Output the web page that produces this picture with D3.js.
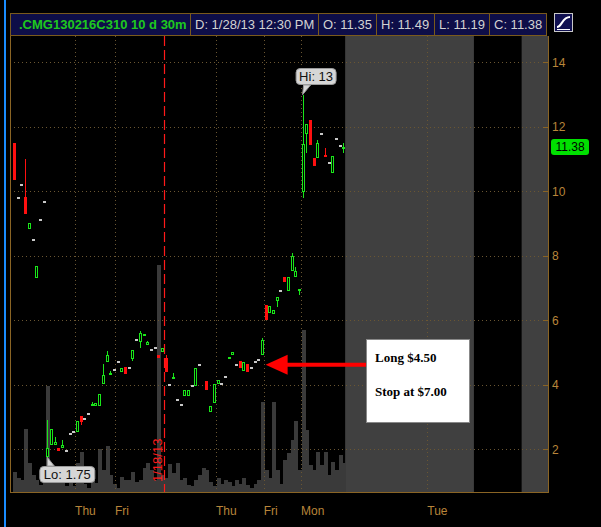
<!DOCTYPE html>
<html>
<head>
<meta charset="utf-8">
<script src="https://cdn.jsdelivr.net/npm/d3@7"></script>
<style>
body { margin: 0; background: #000; }
svg { display: block; }
</style>
</head>
<body>
<svg id="chart" width="601" height="527"></svg>
<script>
// 30 min bars, one slot per bar (null = no bar drawn)
const opens  = [11.5, 9.8, 10.2, 9.83, 8.83, 8.5, 7.32, 9.12, 9.67, 1.75,
                2.12, 2.12, 2.05, 2.04, 1.94, 2.46, 2.53, 2.53, 3.03, 2.93,
                3.1, 3.33, 3.34, 3.34, 4.02, 4.72, 4.29, 4.46, 4.72, 4.41,
                4.55, 4.52, 4.80, 5.39, 5.32, 5.53, 5.24, 5.09, 5.13, 4.93,
                5.01, 4.83, 3.98, 4.17, 3.53, 3.36, 3.66, 3.66, 3.95, 3.96,
                4.62, null, 4.12, 3.17, 3.45, 4.03, 4.03, 4.23, 4.83, 4.91,
                4.62, 4.74, 4.44, 4.65, 4.51, 4.72, 4.78, 4.91, 6.46, 6.23,
                6.21, 6.61, 6.92, 7.33, 6.9, 7.52, 7.33, 6.93, 9.99, 11.77,
                12.2, 11.03, 11.05, 11.77, 11.13, 10.88, 10.58, 11.62, 11.4, 11.35];
const highs  = [11.5, 9.8, 10.2, 11.0, 9.02, 8.5, 7.68, 9.12, 9.67, 2.9,
                2.64, 2.37, 2.05, 2.29, 1.94, 2.46, 2.53, 2.88, 3.03, 2.93,
                3.1, 3.46, 3.44, 3.70, 4.65, 5.06, 4.42, 4.46, 4.72, 4.52,
                4.55, 4.52, 5.08, 5.39, 5.68, 5.56, 5.36, 5.09, 5.13, 4.93,
                5.13, 4.93, 3.98, 4.37, 3.53, 3.36, 3.85, 3.85, 3.95, 4.52,
                4.62, null, 4.12, 3.34, 4.03, 4.15, 4.03, 4.23, 4.86, 5.01,
                4.62, 4.74, 4.72, 4.65, 4.51, 4.72, 4.78, 5.45, 6.46, 6.45,
                6.32, 6.71, 6.92, 7.33, 7.33, 8.1, 7.64, 6.97, 13.0, 12.08,
                12.2, 11.03, 11.59, 11.77, 11.35, 10.88, 11.1, 11.62, 11.4, 11.49];
const lows   = [10.35, 9.8, 10.2, 9.29, 8.83, 8.5, 7.32, 9.12, 9.67, 1.75,
                2.12, 2.12, 1.94, 2.04, 1.94, 2.46, 2.53, 2.53, 2.75, 2.93,
                3.1, 3.33, 3.34, 3.34, 4.02, 4.72, 4.29, 4.46, 4.72, 4.41,
                4.34, 4.52, 4.73, 5.39, 5.14, 5.53, 5.24, 5.09, 5.13, 4.83,
                5.01, 4.41, 3.98, 4.17, 3.53, 3.36, 3.66, 3.66, 3.95, 3.96,
                4.62, null, 3.83, 3.17, 3.45, 4.03, 4.03, 4.23, 4.83, 4.91,
                4.62, 4.53, 4.44, 4.41, 4.51, 4.72, 4.78, 4.91, 6.02, 6.23,
                6.21, 6.41, 6.92, 7.2, 6.9, 7.52, 7.33, 6.8, 9.78, 11.2,
                11.43, 10.79, 11.05, 11.77, 11.07, 10.88, 10.58, 11.62, 11.4, 11.19];
const closes = [10.35, 9.8, 10.2, 9.29, 9.02, 8.5, 7.68, 9.12, 9.67, 2.05,
                2.64, 2.23, 1.94, 2.12, 1.94, 2.46, 2.53, 2.88, 2.85, 2.93,
                3.1, 3.41, 3.44, 3.70, 4.30, 4.93, 4.37, 4.46, 4.72, 4.52,
                4.34, 4.52, 5.08, 5.39, 5.61, 5.56, 5.32, 5.09, 5.13, 4.83,
                5.13, 4.41, 3.98, 4.25, 3.53, 3.36, 3.85, 3.85, 3.95, 4.52,
                4.62, null, 3.83, 3.34, 4.03, 4.15, 4.03, 4.23, 4.86, 5.01,
                4.62, 4.53, 4.72, 4.41, 4.51, 4.72, 4.78, 5.38, 6.02, 6.45,
                6.32, 6.71, 6.92, 7.2, 7.33, 7.99, 7.54, 6.97, 11.46, 12.08,
                11.43, 10.79, 11.51, 11.77, 11.07, 10.88, 11.1, 11.62, 11.4, 11.38];
const volumes = [50, 35, 30, 158, 73, 43, 30, 18, 35, 265,
                 63, 50, 23, 35, 15, 30, 15, 73, 100, 20,
                 10, 40, 23, 108, 55, 115, 43, 20, 10, 38,
                 30, 30, 50, 25, 30, 60, 73, 55, 30, 568,
                 43, 35, 70, 48, 73, 30, 35, 18, 15, 30,
                 43, 60, 55, 25, 15, 35, 20, 30, 25, 15,
                 30, 20, 35, 18, 10, 20, 30, 225, 55, 35,
                 225, 55, 20, 80, 98, 130, 178, 55, 405, 155,
                 68, 55, 100, 68, 100, 43, 75, 55, 93, 73];

// day separators, in bar slots
const dayTicks  = [16.5, 27.3, 54.6, 67.5, 77.6, 111.7];
const dayLabels = ["Thu", "Fri", "Thu", "Fri", "Mon", "Tue"];
const expiryTick = 40.5, expiryLabel = "1/18/13";
// closed / future sessions, in bar slots
const closedFrom = [89.5, 137.2];
const closedTo   = [124.3, 144.5];
const priceTicks = [2, 4, 6, 8, 10, 12, 14];

const header = [".CMG130216C310 10 d 30m", "D: 1/28/13 12:30 PM", "O: 11.35", "H: 11.49", "L: 11.19", "C: 11.38"];
const lastPrice = 11.38;

const width = 601, height = 527;
const pLeft = 10, pRight = 548, pTop = 36, pBottom = 492;

const svg = d3.select("#chart");

let x = d3.scaleLinear().domain([0, 89]).range([14, 343.3]);
let y = d3.scaleLinear().domain([0.674, 14.82]).range([pBottom, pTop]);
let yVol = d3.scaleLinear().domain([0, 600]).range([pBottom, pBottom - 240]);

const bars = opens.map(function(o, i) {
	return {i: i, o: o, h: highs[i], l: lows[i], c: closes[i], v: volumes[i]};
});

svg.append("rect").attr("width", width).attr("height", height).attr("fill", "#000");

// blue edge on the left
svg.append("rect").attr("x", 4).attr("y", 0).attr("width", 2).attr("height", height).attr("fill", "#1a8cff");

// closed sessions
svg.append("g").selectAll("rect")
	.data(closedFrom)
	.enter().append("rect")
	.attr("x", function(d) { return x(d); })
	.attr("y", pTop)
	.attr("width", function(d, i) { return x(closedTo[i]) - x(d); })
	.attr("height", pBottom - pTop)
	.attr("fill", "#404040");

// volume
svg.append("g").attr("shape-rendering", "crispEdges").selectAll("rect")
	.data(bars)
	.enter().append("rect")
	.attr("x", function(d) { return Math.round(x(d.i)) - 1; })
	.attr("y", function(d) { return Math.round(yVol(d.v)); })
	.attr("width", 4)
	.attr("height", function(d) { return pBottom - Math.round(yVol(d.v)); })
	.attr("fill", "#3a3a3a");

// grid
let grid = svg.append("g").attr("stroke", "#6a5632").attr("stroke-dasharray", "1,3");
grid.selectAll("line.h")
	.data(priceTicks)
	.enter().append("line")
	.attr("x1", pLeft).attr("x2", pRight - 6)
	.attr("y1", function(d) { return Math.round(y(d)) + 0.5; })
	.attr("y2", function(d) { return Math.round(y(d)) + 0.5; });
grid.selectAll("line.v")
	.data(dayTicks)
	.enter().append("line")
	.attr("x1", function(d) { return Math.round(x(d)) + 0.5; })
	.attr("x2", function(d) { return Math.round(x(d)) + 0.5; })
	.attr("y1", pTop).attr("y2", pBottom);

// expiration marker
svg.append("line")
	.attr("x1", Math.round(x(expiryTick)) + 0.5).attr("x2", Math.round(x(expiryTick)) + 0.5)
	.attr("y1", pTop).attr("y2", pBottom)
	.attr("stroke", "#ff1a1a").attr("stroke-width", 1.2)
	.attr("stroke-dasharray", "10,4");
svg.append("text")
	.attr("transform", "translate(" + (x(expiryTick) - 2) + "," + (pBottom - 10) + ") rotate(-90)")
	.style("font", "13px 'Liberation Sans', Arial, sans-serif")
	.attr("fill", "#ff1a1a")
	.text(expiryLabel);

// candles
let candles = svg.append("g").attr("shape-rendering", "crispEdges")
	.selectAll("g")
	.data(bars.filter(function(d) { return d.o !== null; }))
	.enter().append("g");

candles.each(function(d) {
	let g = d3.select(this);
	let cx = Math.round(x(d.i));
	if (d.o === d.h && d.o === d.l && d.o === d.c) {
		g.append("rect")
			.attr("x", cx - 1).attr("y", Math.round(y(d.c)) - 1)
			.attr("width", 3).attr("height", 2)
			.attr("fill", "#c8c8c8");
		return;
	}
	let up = d.c >= d.o;
	let col = up ? "#19e619" : "#ff1010";
	let yTop = Math.round(y(Math.max(d.o, d.c)));
	let yBot = Math.round(y(Math.min(d.o, d.c)));
	g.append("line")
		.attr("x1", cx + 0.5).attr("x2", cx + 0.5)
		.attr("y1", y(d.h)).attr("y2", y(d.l))
		.attr("stroke", col);
	if (!up || yBot - yTop < 3) {
		g.append("rect")
			.attr("x", cx - 1).attr("y", yTop)
			.attr("width", 3).attr("height", Math.max(2, yBot - yTop))
			.attr("fill", col);
	} else {
		g.append("rect")
			.attr("x", cx - 0.5).attr("y", yTop + 0.5)
			.attr("width", 2).attr("height", yBot - yTop - 1)
			.attr("fill", "#000").attr("stroke", col);
	}
});

// frame
let frame = svg.append("g").attr("stroke", "#8a6424").attr("shape-rendering", "crispEdges");
frame.append("line").attr("x1", pLeft + 0.5).attr("x2", pLeft + 0.5).attr("y1", pTop).attr("y2", pBottom);
frame.append("line").attr("x1", pRight + 0.5).attr("x2", pRight + 0.5).attr("y1", pTop).attr("y2", pBottom + 1);
frame.append("line").attr("x1", pLeft).attr("x2", pRight).attr("y1", pBottom + 0.5).attr("y2", pBottom + 0.5);

// price axis
svg.append("g")
	.attr("class", "y axis")
	.attr("transform", "translate(" + pRight + ",0)")
	.call(d3.axisRight(y).tickValues(priceTicks).tickSize(0).tickPadding(4))
	.call(function(g) {
		g.select(".domain").remove();
		g.selectAll("text").attr("fill", "#b8853a").style("font", "12px 'Liberation Sans', Arial, sans-serif");
	});
svg.append("g").selectAll("line")
	.data(priceTicks)
	.enter().append("line")
	.attr("x1", pRight - 5).attr("x2", pRight)
	.attr("y1", function(d) { return Math.round(y(d)) + 0.5; })
	.attr("y2", function(d) { return Math.round(y(d)) + 0.5; })
	.attr("stroke", "#8a6424");

// last price badge
svg.append("rect")
	.attr("x", pRight + 3).attr("y", y(lastPrice) - 8)
	.attr("width", 38).attr("height", 16).attr("rx", 3)
	.attr("fill", "#00e000");
svg.append("text")
	.attr("x", pRight + 22).attr("y", y(lastPrice))
	.attr("dy", "0.35em")
	.style("text-anchor", "middle")
	.style("font", "12px 'Liberation Sans', Arial, sans-serif")
	.attr("fill", "#000")
	.text(lastPrice.toFixed(2));

// day labels
svg.append("g").selectAll("text")
	.data(dayTicks)
	.enter().append("text")
	.attr("x", function(d) { return x(d); })
	.attr("y", 515)
	.style("font", "12px 'Liberation Sans', Arial, sans-serif")
	.attr("fill", "#b8853a")
	.text(function(d, i) { return dayLabels[i]; });

// hi / lo bubbles
function bubble(cx, cy, bx, by, w, label, below) {
	let g = svg.append("g");
	let tipY = below ? by : by + 17;
	g.append("path")
		.attr("d", "M" + cx + "," + cy + " L" + (bx + 8) + "," + tipY + " L" + (bx + 15) + "," + tipY + " Z")
		.attr("fill", "#d6d6d6").attr("stroke", "#9a9a9a");
	g.append("rect")
		.attr("x", bx + 0.5).attr("y", by + 0.5).attr("width", w).attr("height", 16).attr("rx", 4)
		.attr("fill", "#d6d6d6").attr("stroke", "#9a9a9a");
	g.append("text")
		.attr("x", bx + w / 2 + 0.5).attr("y", by + 13)
		.style("text-anchor", "middle")
		.style("font", "13px 'Liberation Sans', Arial, sans-serif")
		.attr("fill", "#111")
		.text(label);
}
let hiIdx = d3.maxIndex(highs), loIdx = d3.minIndex(lows);
bubble(x(hiIdx), y(highs[hiIdx]), x(hiIdx) - 7, 68, 40, "Hi: " + highs[hiIdx], false);
bubble(x(loIdx), y(lows[loIdx]), x(loIdx) - 8, 466, 55, "Lo: " + lows[loIdx].toFixed(2), true);

// header bar
let hx = [10, 190, 318, 376, 434, 489, 546];
svg.append("rect")
	.attr("x", 10.5).attr("y", 13.5).attr("width", 536).attr("height", 22)
	.attr("fill", "#0e0e48").attr("stroke", "#7a5a1c");
svg.append("g").selectAll("line")
	.data(hx.slice(1, 6))
	.enter().append("line")
	.attr("x1", function(d) { return d + 0.5; }).attr("x2", function(d) { return d + 0.5; })
	.attr("y1", 14).attr("y2", 35)
	.attr("stroke", "#7a5a1c");
svg.append("g").selectAll("text")
	.data(header)
	.enter().append("text")
	.attr("x", function(d, i) { return hx[i] + (i == 0 ? 9 : 5); })
	.attr("y", 29)
	.style("font", function(d, i) { return (i == 0 ? "bold " : "") + "13px 'Liberation Sans', Arial, sans-serif"; })
	.attr("fill", function(d, i) { return i == 0 ? "#1ec81e" : "#d2d2d2"; })
	.text(function(d) { return d; });

// style button
svg.append("rect")
	.attr("x", 554.5).attr("y", 13.5).attr("width", 18).attr("height", 18)
	.attr("fill", "#101050").attr("stroke", "#c8c8c8");
svg.append("path")
	.attr("d", "M557,27 C562,27 562,17 570,17")
	.attr("fill", "none").attr("stroke", "#fff").attr("stroke-width", 2);
svg.append("line").attr("x1", 557).attr("x2", 570).attr("y1", 29.5).attr("y2", 29.5).attr("stroke", "#fff");

// annotation
const notePrice = 4.62, noteIdx = 68;
let ay = y(notePrice);
svg.append("line")
	.attr("x1", x(noteIdx) + 20).attr("x2", 366)
	.attr("y1", ay).attr("y2", ay)
	.attr("stroke", "#ff0000").attr("stroke-width", 4);
svg.append("path")
	.attr("d", "M" + x(noteIdx) + "," + ay + " L" + (x(noteIdx) + 22) + "," + (ay - 10) + " L" + (x(noteIdx) + 22) + "," + (ay + 10) + " Z")
	.attr("fill", "#ff0000");
svg.append("rect")
	.attr("x", 366.5).attr("y", 339.5).attr("width", 103).attr("height", 83)
	.attr("fill", "#fff").attr("stroke", "#888");
svg.append("text")
	.attr("x", 375).attr("y", 362)
	.style("font", "bold 13px 'Liberation Serif', 'Times New Roman', serif")
	.attr("fill", "#000")
	.text("Long $4.50");
svg.append("text")
	.attr("x", 375).attr("y", 396)
	.style("font", "bold 13px 'Liberation Serif', 'Times New Roman', serif")
	.attr("fill", "#000")
	.text("Stop at $7.00");
</script>
</body>
</html>
